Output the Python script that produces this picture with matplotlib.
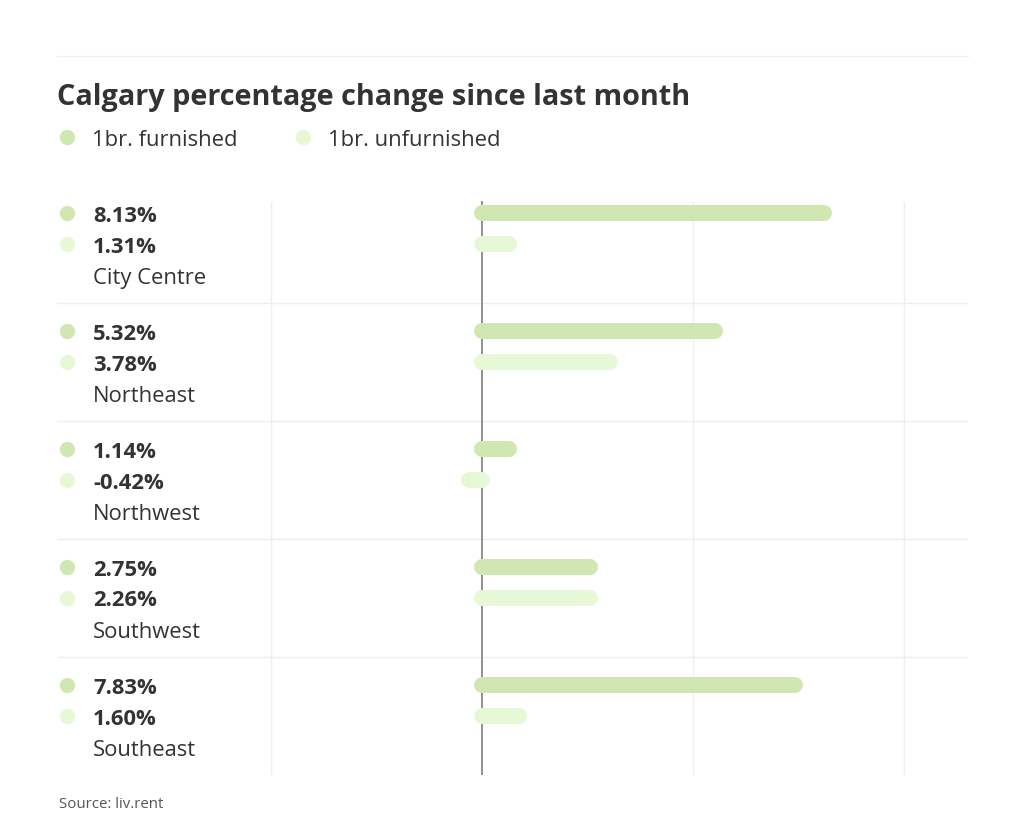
import matplotlib
matplotlib.use("Agg")
import matplotlib.pyplot as plt
import matplotlib.transforms as mtransforms

plt.rcParams['font.family'] = ['Open Sans', 'DejaVu Sans']

# data
regions = ["City Centre", "Northeast", "Northwest", "Southwest", "Southeast"]
furnished_labels = ["8.13%", "5.32%", "1.14%", "2.75%", "7.83%"]
unfurnished_labels = ["1.31%", "3.78%", "-0.42%", "2.26%", "1.60%"]
# bar lengths as drawn in the reference (they don't follow the labels exactly)
furnished_bars = [8.10, 5.53, 0.64, 2.57, 7.43]
unfurnished_bars = [0.64, 3.04, -0.30, 2.57, 0.89]
grid_ticks = [-5, 5, 10]

c_furn = "#d1e7b2"
c_unfurn = "#e7f8d7"
c_text = "#333333"

W, H = 1024, 836
fig = plt.figure(figsize=(W / 100, H / 100), dpi=100)

def fx(px):
    return px / W

def fy(py):
    return 1 - py / H

# top rule
fig.add_artist(plt.Line2D([fx(57), fx(968)], [fy(56), fy(56)], color="#f0f0f0", lw=1))

fig.text(fx(57), fy(98), "Calgary percentage change since last month",
         fontsize=20.8, fontweight="bold", color=c_text, va="center")

# legend
fig.add_artist(plt.Line2D([fx(67)], [fy(137)], marker="o", ms=10, color=c_furn, lw=0))
fig.text(fx(92), fy(140), "1br. furnished", fontsize=15.8, color=c_text, va="center")
fig.add_artist(plt.Line2D([fx(303)], [fy(137)], marker="o", ms=10, color=c_unfurn, lw=0))
fig.text(fx(328), fy(140), "1br. unfurnished", fontsize=15.8, color=c_text, va="center")

# main axes: 57..968 px wide, 185..775 px tall
ax = fig.add_axes([fx(57), fy(775), (968 - 57) / W, (775 - 185) / H])
zero_px, unit = 481.7, 42.2
ax.set_xlim((57 - zero_px) / unit, (968 - zero_px) / unit)
ax.set_ylim(len(regions), 0)
ax.axis("off")

top = 17 / 118
for g in grid_ticks:
    ax.plot([g, g], [top, len(regions)], color="#efefef", lw=1, zorder=0)
ax.plot([0, 0], [top, len(regions)], color="#888888", lw=1.3, zorder=1)
for i in range(1, len(regions)):
    ax.axhline(i, color="#eeeeee", lw=1, zorder=0)

lab = mtransforms.blended_transform_factory(ax.transAxes, ax.transData)
dot_x = 10 / 911
txt_x = 36 / 911
shift = 3 / 118
for i, name in enumerate(regions):
    y1 = i + 28 / 118
    y2 = i + 59 / 118
    y3 = i + 90 / 118
    ax.plot([0, furnished_bars[i]], [y1, y1], color=c_furn, lw=11.5,
            solid_capstyle="round", zorder=2)
    ax.plot([0, unfurnished_bars[i]], [y2, y2], color=c_unfurn, lw=11.5,
            solid_capstyle="round", zorder=2)
    ax.plot([dot_x], [y1], "o", ms=10, color=c_furn, transform=lab, clip_on=False)
    ax.plot([dot_x], [y2], "o", ms=10, color=c_unfurn, transform=lab, clip_on=False)
    ax.text(txt_x, y1 + shift, furnished_labels[i], transform=lab, fontsize=15.8,
            fontweight="bold", color=c_text, va="center")
    ax.text(txt_x, y2 + shift, unfurnished_labels[i], transform=lab, fontsize=15.8,
            fontweight="bold", color=c_text, va="center")
    ax.text(txt_x, y3 + shift, name, transform=lab, fontsize=15.8, color=c_text,
            va="center")

fig.text(fx(59), fy(804), "Source: liv.rent", fontsize=10.8, color="#555555", va="center")

fig.savefig("out.png", dpi=100, facecolor="white")
